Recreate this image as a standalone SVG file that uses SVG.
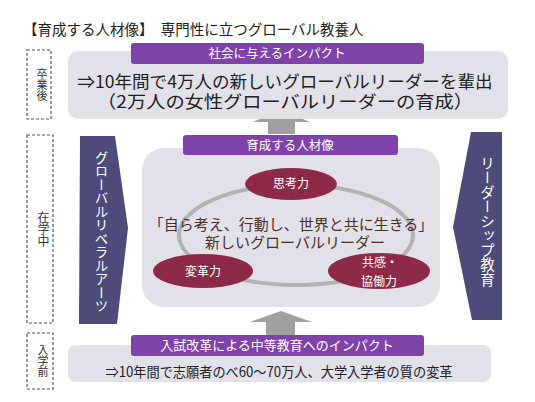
<svg xmlns="http://www.w3.org/2000/svg" width="535" height="402" viewBox="0 0 535 402">
<style>
text{font-family:"Noto Sans CJK JP","Noto Sans",sans-serif;}
.dash{fill:none;stroke:#555;stroke-width:1.2;stroke-dasharray:3 2;}
.box{fill:#e2e1ea;}
.bar{fill:#7f42a8;}
.barT{fill:#fff;font-size:12.5px;text-anchor:middle;}
.dark{fill:#4c4b79;}
.vt{fill:#fff;writing-mode:vertical-rl;text-anchor:middle;}
.lab{fill:#333;font-size:11px;writing-mode:vertical-rl;text-anchor:middle;}
.red{fill:#8c2a48;}
.redT{fill:#fff;font-size:12px;text-anchor:middle;}
.arrow{fill:#a0a0a0;}
.ctr{fill:#4a3028;font-size:15px;text-anchor:middle;}
</style>
<rect width="535" height="402" fill="#fff"/>
<g id="title"><text x="23" y="35" font-size="14.5" fill="#222">【育成する人材像】　専門性に立つグローバル教養人</text></g>

<g id="label-after">
<rect class="dash" x="27" y="50" width="24" height="69"/>
<text class="lab" x="42" y="85">卒業後</text>
</g>
<g id="label-during">
<rect class="dash" x="27" y="135" width="26" height="188"/>
<text class="lab" x="43.5" y="229" style="font-size:12px">在学中</text>
</g>
<g id="label-before">
<rect class="dash" x="27" y="333" width="26" height="56"/>
<text class="lab" x="43" y="361">入学前</text>
</g>

<g id="connectors">
<polygon class="arrow" points="281,110 310,122 295,122 295,134 268,134 268,122 253,122"/>
<polygon class="arrow" points="281,311 312,322 295,322 295,336 266,336 266,322 250,322"/>
</g>

<g id="impact-top">
<rect class="box" x="68" y="51" width="440" height="68" rx="10"/>
<rect class="bar" x="131" y="43" width="293" height="21" rx="3"/>
<text class="barT" x="277" y="58">社会に与えるインパクト</text>
<text font-size="17.5" fill="#222" text-anchor="middle"><tspan x="285" y="88" textLength="415" lengthAdjust="spacingAndGlyphs">⇒10年間で4万人の新しいグローバルリーダーを輩出</tspan><tspan x="285" y="108" textLength="376" lengthAdjust="spacingAndGlyphs">（2万人の女性グローバルリーダーの育成）</tspan></text>
</g>

<g id="liberal-arts">
<polygon class="dark" points="80,136 115,136 128,228 117,324 79,324"/>
<text class="vt" x="101.5" y="232" style="font-size:13.5px">グローバルリベラルアーツ</text>
</g>

<g id="leadership">
<polygon class="dark" points="471,132 502,132 502,320 472,320 453,227"/>
<text class="vt" x="487.5" y="221" style="font-size:14.5px">リーダーシップ教育</text>
</g>

<g id="talent">
<rect class="box" x="142" y="148" width="298" height="159" rx="22"/>
<rect class="bar" x="183" y="135" width="215" height="20" rx="3"/>
<text class="barT" x="290" y="150">育成する人材像</text>
<ellipse cx="296" cy="235" rx="117" ry="50" fill="none" stroke="#b3b3b3" stroke-width="4"/>
<text class="ctr"><tspan x="291" y="230">「自ら考え、行動し、世界と共に生きる」</tspan><tspan x="295" y="248">新しいグローバルリーダー</tspan></text>
</g>

<g id="thinking">
<ellipse class="red" cx="291" cy="184" rx="46" ry="16"/>
<text class="redT" x="291" y="188">思考力</text>
</g>
<g id="change">
<ellipse class="red" cx="203" cy="271" rx="50" ry="17"/>
<text class="redT" x="203" y="276">変革力</text>
</g>
<g id="empathy">
<ellipse class="red" cx="379" cy="271" rx="51" ry="18"/>
<text class="redT"><tspan x="380" y="267">共感・</tspan><tspan x="379" y="286">協働力</tspan></text>
</g>

<g id="impact-bottom">
<rect class="box" x="68" y="345" width="423" height="37" rx="8"/>
<rect class="bar" x="131" y="335" width="293" height="21" rx="3"/>
<text class="barT" x="277" y="350" style="font-size:13px">入試改革による中等教育へのインパクト</text>
<text x="279" y="377" font-size="14" fill="#222" text-anchor="middle" textLength="347" lengthAdjust="spacingAndGlyphs">⇒10年間で志願者のべ60～70万人、大学入学者の質の変革</text>
</g>
</svg>
